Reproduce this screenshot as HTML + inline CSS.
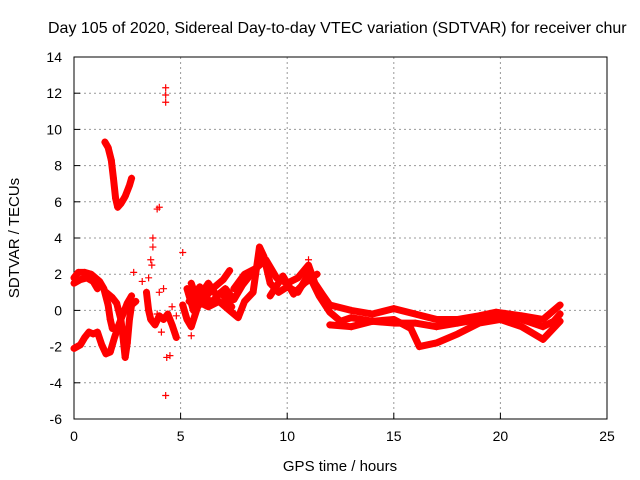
<!DOCTYPE html>
<html><head><meta charset="utf-8"><style>
body{margin:0;background:#fff;}
svg{display:block;font-family:"Liberation Sans",sans-serif;}
</style></head><body>
<svg id="chart" width="640" height="480" viewBox="0 0 640 480">
<text x="48" y="33" font-size="16" fill="#000">Day 105 of 2020, Sidereal Day-to-day VTEC variation (SDTVAR) for receiver chur</text>
<g id="grid"></g>
<g id="axes"></g>
<g id="marks"></g>
<text x="340" y="471" font-size="15" text-anchor="middle">GPS time / hours</text>
<text x="19" y="238" font-size="15" text-anchor="middle" transform="rotate(-90 19 238)">SDTVAR / TECUs</text>
</svg>
<script>
const xTicks=[0,5,10,15,20,25];
const yTicks=[-6,-4,-2,0,2,4,6,8,10,12,14];
const traceA=[[0,1.8],[0.2,2.1],[0.5,2.1],[0.8,2.0],[1.0,1.8],[1.2,1.6],[1.4,1.2],[1.6,0.3],[1.7,-0.5],[1.8,-1.0]];
const traceA2=[[0,1.5],[0.3,1.7],[0.6,1.8],[0.9,1.6],[1.1,1.2]];
const traceB=[[0,-2.1],[0.3,-1.9],[0.5,-1.5],[0.7,-1.2],[0.9,-1.3],[1.1,-1.2],[1.3,-1.9],[1.5,-2.4],[1.7,-2.3],[1.9,-1.5],[2.1,-0.8],[2.3,-0.2],[2.5,0.4],[2.7,0.8]];
const traceC=[[1.45,9.3],[1.6,9.0],[1.75,8.3],[1.85,7.3],[1.95,6.2],[2.05,5.7],[2.2,5.9],[2.4,6.3],[2.6,6.9],[2.7,7.3]];
const traceD=[[1.5,1.0],[1.8,0.7],[2.0,0.4],[2.2,-0.5],[2.3,-1.5],[2.4,-2.6],[2.5,-1.8],[2.6,-0.5],[2.7,0.3],[2.9,0.5]];
const traceE=[[3.4,1.0],[3.5,0.0],[3.6,-0.5],[3.8,-0.8],[4.0,-0.3],[4.2,-0.5],[4.4,-0.2],[4.6,-0.8],[4.8,-1.5]];
const traceF=[[5.1,0.3],[5.3,-0.5],[5.5,-0.9],[5.8,0.2],[6.2,0.8],[6.6,1.3],[7.0,1.7],[7.3,2.2]];
const traceF2=[[5.3,1.2],[5.6,0.0],[5.9,0.8],[6.3,1.5],[6.7,0.8],[7.1,1.2],[7.5,0.6],[7.9,1.4],[8.3,2.0]];
const traceF3=[[5.4,0.5],[5.9,1.3],[6.4,0.4],[6.9,1.0],[7.4,0.2]];
const traceG=[[5.5,1.5],[5.8,0.5],[6.3,0.2],[6.8,0.5],[7.3,0.0],[7.7,-0.4],[8.0,0.5],[8.4,1.0],[8.7,3.5],[8.9,3.0],[9.2,1.5],[9.6,1.0],[10.0,1.3],[10.5,1.0],[11.0,2.0],[11.5,0.8],[12.0,-0.1],[12.5,-0.6],[13.0,-0.4],[14.0,-0.6],[15.0,-0.7],[16.0,-0.7],[17.0,-0.9],[18.0,-0.7],[19.0,-0.5],[20.0,-0.3],[21.0,-0.5],[22.0,-0.9],[22.5,-0.6],[22.8,-0.2]];
const traceH=[[7.5,1.2],[8.0,2.0],[8.5,2.3],[9.0,2.8],[9.5,1.8],[10.0,1.5],[10.5,1.8],[11.0,2.5],[11.3,1.5],[11.7,0.8],[12.0,0.3],[13.0,0.0],[14.0,-0.2],[15.0,0.1],[16.0,-0.2],[17.0,-0.5],[18.0,-0.5],[19.0,-0.3],[19.8,-0.1],[21.0,-0.3],[22.0,-0.5],[22.8,0.3]];
const traceH2=[[9.2,0.8],[9.8,1.9],[10.3,0.9],[10.8,1.5],[11.4,2.0]];
const traceI=[[12.0,-0.8],[13.0,-0.9],[14.0,-0.6],[15.0,-0.5],[15.8,-1.0],[16.2,-2.0],[17.0,-1.8],[18.0,-1.3],[19.0,-0.7],[20.0,-0.5],[21.0,-0.9],[22.0,-1.6],[22.8,-0.6]];
const scatter=[[2.8,2.1],[3.5,1.8],[3.7,4.0],[3.7,3.5],[3.9,5.6],[4.0,5.7],[4.3,12.3],[4.3,11.5],[4.3,11.9],[4.35,-2.6],[4.3,-4.7],[4.5,-2.5],[4.0,1.0],[4.2,1.2],[3.6,2.8],[3.65,2.5],[5.1,3.2],[4.6,0.2],[4.8,-0.3],[3.2,1.6],[5.5,-1.4],[11.0,2.8],[4.1,-1.2],[3.9,-0.2]];
const traces=[traceA,traceA2,traceB,traceC,traceD,traceE,traceF,traceF2,traceF3,traceG,traceH,traceH2,traceI];
const L=74,R=607,T=57,B=419;
const xs=v=>L+(v-0)/(25-0)*(R-L);
const ys=v=>B-(v+6)/(20)*(B-T);
const NS="http://www.w3.org/2000/svg";
const grid=document.getElementById('grid'),axes=document.getElementById('axes'),marks=document.getElementById('marks');
function mk(tag,attrs,parent){const e=document.createElementNS(NS,tag);for(const k in attrs)e.setAttribute(k,attrs[k]);parent.appendChild(e);return e;}
xTicks.forEach(t=>{const x=xs(t);
 if(t>0&&t<25){const g=mk('line',{x1:x,x2:x,y1:T,y2:B,stroke:'#999','stroke-dasharray':'2,3'},grid);}
 const tk=mk('line',{x1:x,x2:x,y1:B,y2:B-6,stroke:'#000'},axes);
 const tx=mk('text',{x:x,y:B+22,'font-size':14,'text-anchor':'middle'},axes);tx.textContent=t;
 
 
});
yTicks.forEach(t=>{const y=ys(t);
 if(t>-6&&t<14){const g=mk('line',{x1:L,x2:R,y1:y,y2:y,stroke:'#999','stroke-dasharray':'2,3'},grid);}
 const tk=mk('line',{x1:L,x2:L+6,y1:y,y2:y,stroke:'#000'},axes);
 const tx=mk('text',{x:L-12,y:y+5,'font-size':14,'text-anchor':'end'},axes);tx.textContent=t;
 
 
});
const fr=mk('rect',{x:L,y:T,width:R-L,height:B-T,fill:'none',stroke:'#000'},axes);


function plus(p){const x=xs(p[0]),y=ys(p[1]);
 const g=mk('path',{d:`M${x-3.5} ${y}H${x+3.5}M${x} ${y-3.5}V${y+3.5}`,stroke:'#f00','stroke-width':1.2,fill:'none'},marks);
 
 }
traces.forEach(tr=>{
 const pl=mk('polyline',{points:tr.map(p=>xs(p[0])+','+ys(p[1])).join(' '),fill:'none',stroke:'#f00','stroke-width':7,'stroke-linejoin':'round','stroke-linecap':'round'},marks);
 
 
 tr.forEach(plus);
});
scatter.forEach(plus);
</script>
</body></html>
